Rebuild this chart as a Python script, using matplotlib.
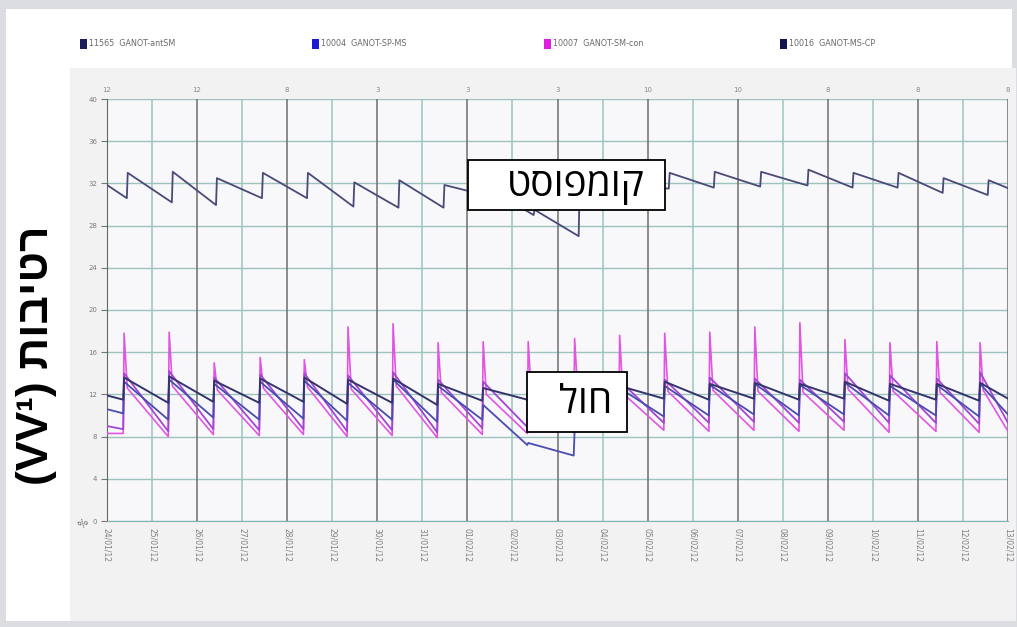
import matplotlib
matplotlib.use('Agg')
import matplotlib.pyplot as plt
from matplotlib.patches import Rectangle

# ---------------- data ----------------
days = list(range(21))
date_labels = ['24/01/12', '25/01/12', '26/01/12', '27/01/12', '28/01/12', '29/01/12',
               '30/01/12', '31/01/12', '01/02/12', '02/02/12', '03/02/12', '04/02/12',
               '05/02/12', '06/02/12', '07/02/12', '08/02/12', '09/02/12', '10/02/12',
               '11/02/12', '12/02/12', '13/02/12']
top_labels = ['12', '12', '8', '3', '3', '3', '10', '10', '8', '8', '8']
y_ticks = [0, 4, 8, 12, 16, 20, 24, 28, 32, 36, 40]
legend_labels = ['11565  GANOT-antSM', '10004  GANOT-SP-MS', '10007  GANOT-SM-con', '10016  GANOT-MS-CP']
legend_colors = ['#1c1c5c', '#1a1ad0', '#e020e0', '#12124e']

# irrigation (rise) times in days
irrig_t = [0.36, 1.36, 2.36, 3.38, 4.36, 5.33, 6.33, 7.33, 8.33, 9.33,
           10.36, 11.36, 12.36, 13.36, 14.36, 15.36, 16.36, 17.36, 18.4, 19.36]
compost_t = [0.44, 1.44, 2.42, 3.44, 4.44, 5.47, 6.47, 7.47, 8.47, 9.47,
             10.47, 11.47, 12.47, 13.47, 14.5, 15.55, 16.55, 17.55, 18.55, 19.55]

# compost sensor
compost_start, compost_end = 31.85, 31.55
compost_trough = [30.6, 30.2, 29.95, 30.6, 30.6, 29.8, 29.7, 29.7, 30.8, 29.0,
                  27.0, 30.8, 31.5, 31.6, 31.7, 31.8, 31.6, 31.6, 31.1, 30.9]
compost_peak = [33.0, 33.1, 32.5, 33.0, 33.0, 32.1, 32.3, 31.85, 31.5, 29.5,
                31.5, 32.0, 33.0, 33.1, 33.1, 33.3, 33.0, 33.0, 32.5, 32.3]

# sand sensors
a_start, a_end = 11.9, 11.6
a_trough = [11.5, 11.2, 11.3, 11.2, 11.3, 11.1, 11.2, 11.0, 11.4, 11.5,
            11.6, 11.5, 11.6, 11.5, 11.6, 11.5, 11.6, 11.4, 11.5, 11.4]
a_peak = [13.6, 13.7, 13.3, 13.5, 13.6, 13.4, 13.5, 13.0, 12.6, 12.6,
          12.8, 12.8, 13.2, 13.0, 13.1, 13.0, 13.2, 13.0, 13.0, 13.1]

b_start, b_end = 10.6, 10.1
b_trough = [10.2, 9.6, 9.8, 9.6, 9.7, 9.5, 9.6, 9.4, 9.6, 7.2,
            6.2, 9.4, 9.9, 10.0, 10.1, 10.0, 10.1, 10.0, 10.0, 9.9]
b_peak = [13.2, 13.4, 13.0, 13.2, 13.3, 13.1, 13.4, 12.8, 11.0, 7.4,
          8.6, 12.6, 12.8, 12.9, 13.0, 12.9, 13.1, 12.8, 12.9, 13.0]

c_start, c_end = 9.0, 9.3
c_trough = [8.7, 8.5, 8.7, 8.6, 8.7, 8.5, 8.6, 8.4, 8.8, 8.9,
            9.0, 9.2, 9.3, 9.3, 9.4, 9.3, 9.4, 9.3, 9.3, 9.2]
c_peak = [14.0, 14.2, 13.6, 13.9, 14.0, 13.8, 14.1, 13.4, 13.2, 13.2,
          13.5, 13.3, 13.4, 13.6, 13.5, 13.4, 14.0, 13.8, 13.5, 14.1]

d_start, d_end = 8.3, 8.5
d_trough = [8.3, 8.0, 8.2, 8.1, 8.2, 8.0, 8.1, 7.9, 8.2, 8.3,
            8.4, 8.5, 8.6, 8.5, 8.6, 8.5, 8.6, 8.4, 8.5, 8.4]
d_spike = [17.8, 17.9, 15.0, 15.5, 15.3, 18.4, 18.7, 16.9, 17.0, 17.0,
           17.3, 17.6, 17.8, 17.9, 18.4, 18.8, 17.2, 16.9, 17.0, 16.9]
d_post = [12.6, 12.8, 12.4, 12.6, 12.7, 12.5, 12.8, 12.2, 12.0, 12.0,
          12.2, 12.1, 12.3, 12.4, 12.3, 12.2, 12.5, 12.3, 12.2, 12.4]


def build(rise_t, start, trough, peak, end, post=None):
    ts, vs = [0.0], [start]
    for i, tr in enumerate(rise_t):
        ts += [tr, tr + 0.02]
        vs += [trough[i], peak[i]]
        if post is not None:
            ts.append(tr + 0.09)
            vs.append(post[i])
    ts.append(20.0)
    vs.append(end)
    return ts, vs


# ---------------- figure ----------------
W, H = 1017, 627
fig = plt.figure(figsize=(W / 100, H / 100), dpi=100, facecolor='#dcdde1')


def fx(x):
    return x / W


def fy(y):
    return 1 - y / H


def frect(x0, y0, x1, y1, **kw):
    fig.patches.append(Rectangle((fx(x0), fy(y1)), fx(x1) - fx(x0), fy(y0) - fy(y1),
                                 transform=fig.transFigure, figure=fig, **kw))


frect(6, 9, 1012, 621, facecolor='white', edgecolor='none', zorder=-3)
frect(70, 68, 1016, 621, facecolor='#f2f2f2', edgecolor='none', zorder=-2)

ax = fig.add_axes([fx(107), fy(521), fx(1008) - fx(107), fy(99) - fy(521)])
ax.set_zorder(1)
ax.set_facecolor('#f8f8fb')
ax.set_xlim(0, 20)
ax.set_ylim(0, 40)

# grid
for v in y_ticks:
    ax.axhline(v, color='#9ec3bf', lw=1.0, zorder=1)
for dd in days:
    col = '#6e6e6e' if dd % 2 == 0 else '#9cc4c0'
    ax.axvline(dd, color=col, lw=1.1, zorder=1)

# lines
line_specs = [
    (build(compost_t, compost_start, compost_trough, compost_peak, compost_end), '#4a4a78', 1.3),
    (build(irrig_t, d_start, d_trough, d_spike, d_end, d_post), '#e255e2', 1.2),
    (build(irrig_t, c_start, c_trough, c_peak, c_end), '#a445d4', 1.3),
    (build(irrig_t, b_start, b_trough, b_peak, b_end), '#4b4bb0', 1.3),
    (build(irrig_t, a_start, a_trough, a_peak, a_end), '#34346c', 1.4),
]
for (ts, vs), col, lw in line_specs:
    ax.plot(ts, vs, color=col, lw=lw, zorder=3)

for s in ['top', 'right']:
    ax.spines[s].set_visible(False)
ax.spines['left'].set_color('#666666')
ax.spines['bottom'].set_color('#7fb3ad')

ax.set_yticks(y_ticks)
ax.set_yticklabels([str(v) for v in y_ticks], fontsize=5, color='#7a7a7a')
ax.tick_params(axis='y', length=4, color='#777777', pad=3)
ax.set_xticks(days)
ax.set_xticklabels(date_labels, rotation=270, fontsize=5.5, color='#808080')
ax.tick_params(axis='x', length=0, pad=5)

# top labels
for i, lab in enumerate(top_labels):
    ax.text(2 * i, 40.6, lab, fontsize=5, color='#8a8a8a', ha='center', va='bottom')
fig.text(fx(84), fy(524), '%', fontsize=7, color='#666666', rotation=45, ha='center', va='center')

# legend
lx = [80, 312, 544, 780]
for x0, lab, col in zip(lx, legend_labels, legend_colors):
    frect(x0, 39, x0 + 7, 49, facecolor=col, edgecolor='none', zorder=2)
    fig.text(fx(x0 + 9), fy(44), lab, fontsize=5.8, color='#6a6a6a', ha='left', va='center')

# y label (visual order for RTL)
fig.text(fx(37), fy(355), '(VV¹) ' + 'רטיבות'[::-1], rotation=90, fontsize=32,
         fontweight='bold', ha='center', va='center',
         family=['Liberation Sans', 'DejaVu Sans'])

# annotation boxes
frect(468, 160, 665, 210, facecolor='white', edgecolor='black', lw=1.3, zorder=5)
fig.text(fx(576), fy(186), 'קומפוסט'[::-1], fontsize=28, ha='center', va='center',
         family=['Open Sans', 'DejaVu Sans'], zorder=6)
frect(527, 372, 627, 432, facecolor='white', edgecolor='black', lw=1.3, zorder=5)
fig.text(fx(586), fy(403), 'חול'[::-1], fontsize=28, ha='center', va='center',
         family=['Open Sans', 'DejaVu Sans'], zorder=6)

fig.savefig('out.png', dpi=100, facecolor=fig.get_facecolor())
